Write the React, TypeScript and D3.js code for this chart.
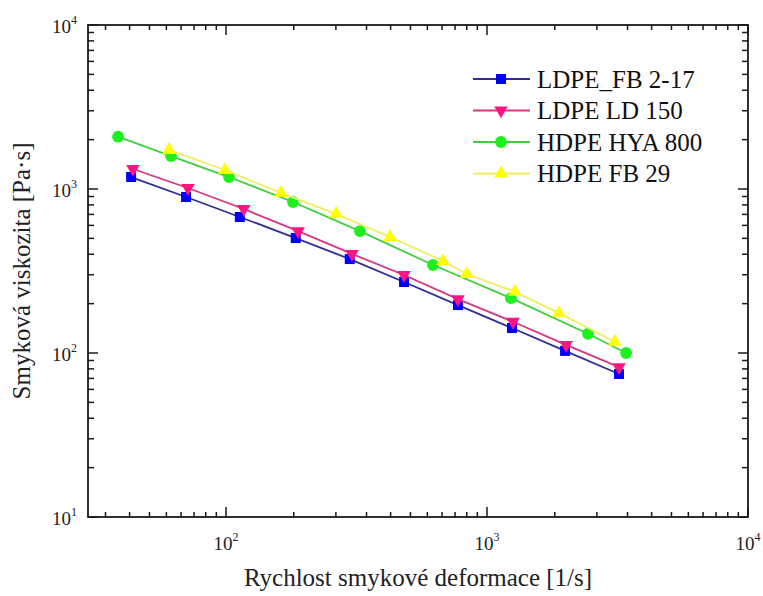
import React from 'react';
import * as d3 from 'd3';

// shear rate [1/s] and viscosity [Pa·s]
const ldpeFbX = [43.3, 70.3, 113, 185, 298, 481, 774, 1247, 1991, 3205];
const ldpeFbY = [1183, 894, 675, 502, 374, 271, 196, 142, 103, 74.5];
const ldpeLdX = [44, 71.5, 117, 189, 304, 481, 774, 1258, 2010, 3205];
const ldpeLdY = [1324, 1014, 755, 554, 402, 299, 213, 155, 112, 82];
const hdpeHyaX = [38.6, 61.6, 102.7, 180.6, 326, 621, 1236, 2438, 3412];
const hdpeHyaY = [2084, 1588, 1183, 833, 554, 344, 216, 131, 100];
const hdpeFbX = [60.5, 99.1, 162.4, 264, 425, 678, 837, 1279, 1888, 3090];
const hdpeFbY = [1730, 1306, 946, 705, 510, 364, 303, 236, 175, 117];

const seriesNames = ['LDPE_FB 2-17', 'LDPE LD 150', 'HDPE HYA 800', 'HDPE FB 29'];

const xMajor = [100, 1000, 10000];
const yMajor = [10, 100, 1000, 10000];

const xTitle = 'Rychlost smykové deformace [1/s]';
const yTitle = 'Smyková viskozita [Pa·s]';

const W = 763;
const H = 596;
const left = 88, right = 748, top = 25, bottom = 517;
const FONT = "'Liberation Serif', serif";

const styles = [
  { line: '#2d2d9c', fill: '#0000ff', symbol: d3.symbolSquare, size: 100, rot: 0 },
  { line: '#d93580', fill: '#ff1482', symbol: d3.symbolTriangle, size: 80, rot: 180 },
  { line: '#3fcf3f', fill: '#1ef01e', symbol: d3.symbolCircle, size: 110, rot: 0 },
  { line: '#eeee60', fill: '#ffff00', symbol: d3.symbolTriangle, size: 80, rot: 0 },
];

export default function App() {
  const x = d3.scaleLog().domain([29.6, 10000]).range([left, right]);
  const y = d3.scaleLog().domain([10, 10000]).range([bottom, top]);

  const series = [
    { name: seriesNames[0], xs: ldpeFbX, ys: ldpeFbY },
    { name: seriesNames[1], xs: ldpeLdX, ys: ldpeLdY },
    { name: seriesNames[2], xs: hdpeHyaX, ys: hdpeHyaY },
    { name: seriesNames[3], xs: hdpeFbX, ys: hdpeFbY },
  ];

  // Origin style: 10 evenly spaced minor ticks per decade on x
  const xMinor: number[] = [];
  [10, 100, 1000].forEach((d) => {
    for (let k = 1; k <= 10; k++) {
      const v = d + (k * d * 9) / 11;
      if (v > 29.6 && v < 10000) xMinor.push(v);
    }
  });
  const yMinor: number[] = [];
  [10, 100, 1000].forEach((d) => {
    for (let k = 2; k <= 9; k++) yMinor.push(k * d);
  });

  const line = d3.line<[number, number]>().x((d) => x(d[0])).y((d) => y(d[1]));
  const sym = (i: number) => d3.symbol().type(styles[i].symbol).size(styles[i].size)() as string;

  const axisColor = '#1a1a1a';

  return (
    <svg
      width={W}
      height={H}
      style={{ position: 'absolute', left: 0, top: 0, background: '#fff', fontFamily: FONT }}
    >
      {/* series */}
      {series.map((s, i) => {
        const pts = s.xs.map((v, j) => [v, s.ys[j]] as [number, number]);
        return (
          <g key={s.name}>
            <path d={line(pts) as string} fill="none" stroke={styles[i].line} strokeWidth={1.8} />
            {pts.map((p, j) => (
              <path
                key={j}
                d={sym(i)}
                fill={styles[i].fill}
                transform={`translate(${x(p[0])},${y(p[1])}) rotate(${styles[i].rot})`}
              />
            ))}
          </g>
        );
      })}

      {/* frame */}
      <rect x={left} y={top} width={right - left} height={bottom - top} fill="none" stroke={axisColor} strokeWidth={1.8} />

      {/* x ticks bottom + top */}
      {xMajor.map((v) => (
        <g key={'xM' + v}>
          <line x1={x(v)} x2={x(v)} y1={bottom} y2={bottom - 10} stroke={axisColor} strokeWidth={1.5} />
          <line x1={x(v)} x2={x(v)} y1={top} y2={top + 10} stroke={axisColor} strokeWidth={1.5} />
          <text x={x(v)} y={550} textAnchor="middle" style={{ fontFamily: FONT }} fontSize={19} fill="#222">
            10<tspan fontSize={12} dy={-9}>{Math.round(Math.log10(v))}</tspan>
          </text>
        </g>
      ))}
      {xMinor.map((v) => (
        <g key={'xm' + v}>
          <line x1={x(v)} x2={x(v)} y1={bottom} y2={bottom - 5} stroke={axisColor} strokeWidth={1.5} />
          <line x1={x(v)} x2={x(v)} y1={top} y2={top + 5} stroke={axisColor} strokeWidth={1.5} />
        </g>
      ))}

      {/* y ticks left + right */}
      {yMajor.map((v) => (
        <g key={'yM' + v}>
          <line x1={left} x2={left + 10} y1={y(v)} y2={y(v)} stroke={axisColor} strokeWidth={1.5} />
          <line x1={right} x2={right - 10} y1={y(v)} y2={y(v)} stroke={axisColor} strokeWidth={1.5} />
          <text x={77} y={y(v) + 8} textAnchor="end" style={{ fontFamily: FONT }} fontSize={19} fill="#222">
            10<tspan fontSize={12} dy={-9}>{Math.round(Math.log10(v))}</tspan>
          </text>
        </g>
      ))}
      {yMinor.map((v) => (
        <g key={'ym' + v}>
          <line x1={left} x2={left + 6} y1={y(v)} y2={y(v)} stroke={axisColor} strokeWidth={1.5} />
          <line x1={right} x2={right - 6} y1={y(v)} y2={y(v)} stroke={axisColor} strokeWidth={1.5} />
        </g>
      ))}

      {/* axis titles */}
      <text x={(left + right) / 2} y={586} textAnchor="middle" style={{ fontFamily: FONT }} fontSize={25} fill="#222">
        {xTitle}
      </text>
      <text
        transform={`translate(30,${(top + bottom) / 2}) rotate(-90)`}
        textAnchor="middle"
        style={{ fontFamily: FONT }}
        fontSize={25}
        fill="#222"
      >
        {yTitle}
      </text>

      {/* legend */}
      {series.map((s, i) => {
        const ly = 79 + i * 31.5;
        return (
          <g key={'lg' + s.name}>
            <line x1={473} x2={530} y1={ly} y2={ly} stroke={styles[i].line} strokeWidth={1.8} />
            <path d={sym(i)} fill={styles[i].fill} transform={`translate(501,${ly}) rotate(${styles[i].rot})`} />
            <text x={537} y={ly + 8.5} style={{ fontFamily: FONT }} fontSize={25} fill="#111">
              {s.name}
            </text>
          </g>
        );
      })}
    </svg>
  );
}
